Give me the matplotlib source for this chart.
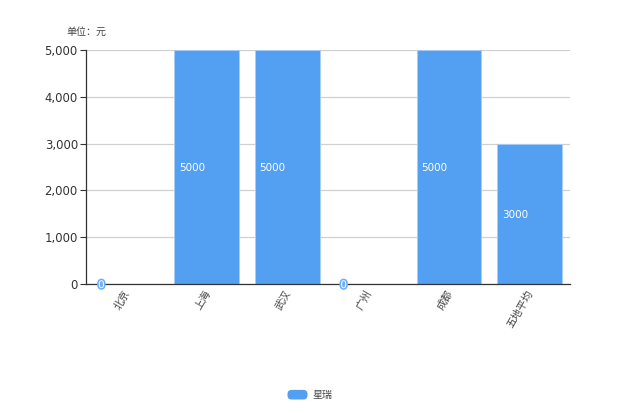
import matplotlib
matplotlib.use("Agg")
from matplotlib import pyplot as plt
from matplotlib import patheffects
from matplotlib.legend_handler import HandlerPatch
from matplotlib.patches import FancyBboxPatch, Patch
from matplotlib.transforms import ScaledTranslation

categories = ["北京", "上海", "武汉", "广州", "成都", "五地平均"]
values = [0, 5000, 5000, 0, 5000, 3000]
y_ticks = [0, 1000, 2000, 3000, 4000, 5000]
series_name = "星瑞"
unit_label = "单位：元"

BLUE = "#539ff1"
TEXT = "#444444"
W, H = 620, 413


class RoundedHandler(HandlerPatch):
    def create_artists(self, legend, orig_handle, xdescent, ydescent,
                       width, height, fontsize, trans):
        box = FancyBboxPatch(
            (-xdescent + 3, -ydescent + 3), width - 6, height - 6,
            boxstyle="round,pad=3", facecolor=BLUE, edgecolor="none",
            transform=trans
        )
        return [box]


plt.rcParams["font.family"] = ["DejaVu Sans", "Noto Sans CJK SC"]

fig = plt.figure(figsize=(W / 100, H / 100), dpi=100)
ax = fig.add_axes([85.5 / W, 1 - 284 / H, 484.5 / W, 234 / H])

positions = list(range(len(categories)))
bars = ax.bar(positions, values, width=0.8, color=BLUE,
              edgecolor="#a9cff8", linewidth=0.6, zorder=2)

for bar, value in zip(bars, values):
    label = ax.annotate(
        str(value), (bar.get_x(), value / 2), xytext=(4.5, -1),
        textcoords="offset pixels", ha="left", va="center",
        color="white", fontsize=7.5, zorder=4, annotation_clip=False
    )
    if value == 0:
        label.set_path_effects(
            [patheffects.withStroke(linewidth=2.4, foreground="#6fb0f5")]
        )

ax.set_xlim(-0.5, len(categories) - 0.5)
ax.set_ylim(0, 5000)
ax.set_yticks(y_ticks)
ax.set_yticklabels([f"{tick:,}" for tick in y_ticks])
ax.set_xticks(positions)
ax.set_xticklabels(categories, rotation=60, ha="right", va="top",
                   rotation_mode="anchor")
ax.tick_params(axis="x", length=0, pad=3, labelsize=7.5, labelcolor=TEXT)
ax.tick_params(axis="y", length=4, width=0.8, color="#333333", pad=1.5,
               labelsize=8.4, labelcolor="#333333")

# the labels sit a little left of the band centre
shift = ScaledTranslation(-3 / 100, 0, fig.dpi_scale_trans)
for tick_label in ax.get_xticklabels():
    tick_label.set_transform(tick_label.get_transform() + shift)

ax.grid(axis="y", color="#d0d0d0", linewidth=0.9, zorder=1)
ax.set_axisbelow(True)
ax.spines["top"].set_visible(False)
ax.spines["right"].set_visible(False)
for side in ("left", "bottom"):
    ax.spines[side].set_color("#333333")
    ax.spines[side].set_linewidth(0.9)

fig.text(66 / W, 1 - 32 / H, unit_label, ha="left", va="center",
         fontsize=7.2, color=TEXT)

fig.legend(
    handles=[Patch(color=BLUE, label=series_name)],
    handler_map={Patch: RoundedHandler()},
    loc="center", bbox_to_anchor=(310 / W, 1 - 395 / H),
    frameon=False, fontsize=7.2, labelcolor=TEXT,
    handlelength=2.0, handleheight=1.1, handletextpad=0.5
)

fig.savefig("out.png", dpi=100)
